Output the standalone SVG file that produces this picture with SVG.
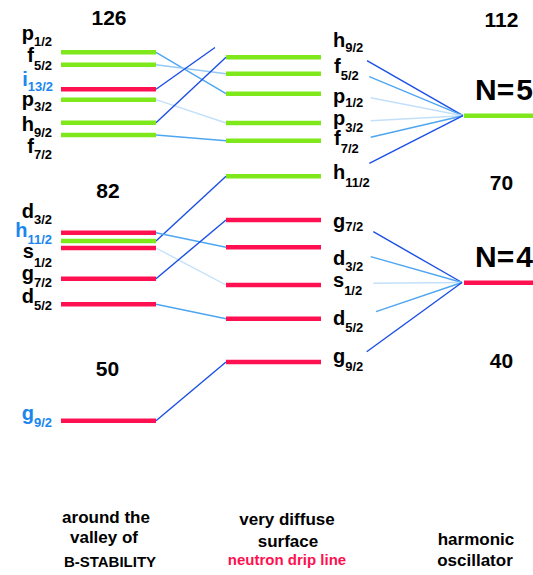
<svg xmlns="http://www.w3.org/2000/svg" width="533" height="575" viewBox="0 0 533 575">
<style>
text{font-family:"Liberation Sans",Arial,sans-serif;font-weight:bold;fill:#000}
.lab{font-size:20px}
.sub{font-size:13px}
.blu{fill:#1a86ee}
.num{font-size:21px;text-anchor:middle}
.big{font-size:30px}
.cap{font-size:17px;text-anchor:middle}
.cap2{font-size:15px;text-anchor:middle}
.red{fill:#ff1050}
.g{stroke:#7ee81a;stroke-width:4.5}
.r{stroke:#ff1050;stroke-width:4.5}
.c{fill:none;stroke-width:1.4}
.dk{stroke:#1a4fe6}
.md{stroke:#4ea6f0}
.lt{stroke:#94c9f4}
.vl{stroke:#c3e0fa}
</style>
<g id="connectors">
<line class="c md" x1="156" y1="52.3" x2="226" y2="93.7"/>
<line class="c lt" x1="156" y1="64.7" x2="226" y2="73.7"/>
<line class="c dk" x1="156" y1="89.3" x2="215" y2="47.5"/>
<line class="c vl" x1="156" y1="99.7" x2="226" y2="123"/>
<line class="c dk" x1="156" y1="122.7" x2="226" y2="57.3"/>
<line class="c md" x1="156" y1="135" x2="226" y2="140.7"/>
<line class="c dk" x1="156" y1="241" x2="226" y2="176.3"/>
<line class="c md" x1="156" y1="232.7" x2="226" y2="247.3"/>
<line class="c vl" x1="156" y1="248" x2="226" y2="285"/>
<line class="c dk" x1="156" y1="278.7" x2="226" y2="220"/>
<line class="c md" x1="156" y1="304.3" x2="226" y2="318.7"/>
<line class="c dk" x1="156" y1="420.7" x2="226" y2="362"/>
<line class="c dk" x1="367" y1="60.7" x2="463" y2="115.7"/>
<line class="c md" x1="369.3" y1="76.7" x2="463" y2="115.7"/>
<line class="c vl" x1="370.7" y1="97.7" x2="463" y2="115.7"/>
<line class="c vl" x1="370.7" y1="120.7" x2="463" y2="115.7"/>
<line class="c md" x1="370.7" y1="137.3" x2="463" y2="115.7"/>
<line class="c dk" x1="369.3" y1="163.3" x2="463" y2="115.7"/>
<line class="c dk" x1="373.3" y1="231.7" x2="462" y2="282.5"/>
<line class="c md" x1="370.7" y1="256.7" x2="462" y2="282.5"/>
<line class="c vl" x1="373.3" y1="283.3" x2="462" y2="282.5"/>
<line class="c md" x1="376" y1="311.7" x2="462" y2="282.5"/>
<line class="c dk" x1="366.7" y1="351.7" x2="462" y2="282.5"/>
</g>
<g id="left-levels">
<line class="g" x1="61" y1="52.3" x2="156" y2="52.3"/>
<line class="g" x1="61" y1="64.7" x2="156" y2="64.7"/>
<line class="r" x1="61" y1="89.3" x2="156" y2="89.3"/>
<line class="g" x1="61" y1="99.7" x2="156" y2="99.7"/>
<line class="g" x1="61" y1="122.7" x2="156" y2="122.7"/>
<line class="g" x1="61" y1="135" x2="156" y2="135"/>
<line class="r" x1="61" y1="232.7" x2="156" y2="232.7"/>
<line class="g" x1="61" y1="241" x2="156" y2="241"/>
<line class="r" x1="61" y1="248" x2="156" y2="248"/>
<line class="r" x1="61" y1="278.7" x2="156" y2="278.7"/>
<line class="r" x1="61" y1="304.3" x2="156" y2="304.3"/>
<line class="r" x1="61" y1="420.7" x2="156" y2="420.7"/>
</g>
<g id="left-labels">
<text class="lab" x="52" y="40" text-anchor="end">p<tspan class="sub" dy="6">1/2</tspan></text>
<text class="lab" x="52" y="62.3" text-anchor="end">f<tspan class="sub" dy="7.5">5/2</tspan></text>
<text class="lab blu" x="53" y="85.7" text-anchor="end">i<tspan class="sub blu" dy="5">13/2</tspan></text>
<text class="lab" x="52" y="106" text-anchor="end">p<tspan class="sub" dy="5">3/2</tspan></text>
<text class="lab" x="52" y="130.7" text-anchor="end">h<tspan class="sub" dy="6">9/2</tspan></text>
<text class="lab" x="52" y="153.3" text-anchor="end">f<tspan class="sub" dy="6">7/2</tspan></text>
<text class="lab" x="52" y="218.3" text-anchor="end">d<tspan class="sub" dy="6">3/2</tspan></text>
<text class="lab blu" x="52" y="236.7" text-anchor="end">h<tspan class="sub blu" dy="7">11/2</tspan></text>
<text class="lab" x="52" y="257.5" text-anchor="end">s<tspan class="sub" dy="9">1/2</tspan></text>
<text class="lab" x="52" y="280" text-anchor="end">g<tspan class="sub" dy="7">7/2</tspan></text>
<text class="lab" x="52" y="303.3" text-anchor="end">d<tspan class="sub" dy="6.5">5/2</tspan></text>
<text class="lab blu" x="52" y="420" text-anchor="end">g<tspan class="sub blu" dy="7">9/2</tspan></text>
</g>
<g id="left-numbers">
<text class="num" x="109" y="25">126</text>
<text class="num" x="108" y="198">82</text>
<text class="num" x="107.5" y="376">50</text>
</g>
<g id="mid-levels">
<line class="g" x1="226" y1="57.3" x2="321" y2="57.3"/>
<line class="g" x1="226" y1="73.7" x2="321" y2="73.7"/>
<line class="g" x1="226" y1="93.7" x2="321" y2="93.7"/>
<line class="g" x1="226" y1="123" x2="321" y2="123"/>
<line class="g" x1="226" y1="140.7" x2="321" y2="140.7"/>
<line class="g" x1="226" y1="176.3" x2="321" y2="176.3"/>
<line class="r" x1="226" y1="220" x2="321" y2="220"/>
<line class="r" x1="226" y1="247.3" x2="321" y2="247.3"/>
<line class="r" x1="226" y1="285" x2="321" y2="285"/>
<line class="r" x1="226" y1="318.7" x2="321" y2="318.7"/>
<line class="r" x1="226" y1="362" x2="321" y2="362"/>
</g>
<g id="mid-labels">
<text class="lab" x="333" y="46.7">h<tspan class="sub" dy="5">9/2</tspan></text>
<text class="lab" x="334" y="73.3">f<tspan class="sub" dy="6.7">5/2</tspan></text>
<text class="lab" x="333" y="103.3">p<tspan class="sub" dy="4">1/2</tspan></text>
<text class="lab" x="333" y="125">p<tspan class="sub" dy="6.7">3/2</tspan></text>
<text class="lab" x="334" y="145">f<tspan class="sub" dy="7.7">7/2</tspan></text>
<text class="lab" x="333" y="179.3">h<tspan class="sub" dy="7.4">11/2</tspan></text>
<text class="lab" x="333" y="228.3">g<tspan class="sub" dy="3">7/2</tspan></text>
<text class="lab" x="333" y="265">d<tspan class="sub" dy="5.7">3/2</tspan></text>
<text class="lab" x="333" y="287.3">s<tspan class="sub" dy="7.7">1/2</tspan></text>
<text class="lab" x="333" y="325">d<tspan class="sub" dy="6.7">5/2</tspan></text>
<text class="lab" x="333" y="363.3">g<tspan class="sub" dy="7.7">9/2</tspan></text>
</g>
<g id="right-levels">
<line class="g" x1="464" y1="115.7" x2="533" y2="115.7"/>
<line class="r" x1="464" y1="282.7" x2="533" y2="282.7"/>
</g>
<g id="right-labels">
<text class="num" x="501.5" y="26.7">112</text>
<text class="num" x="501.5" y="190">70</text>
<text class="num" x="501.5" y="368">40</text>
<text class="big" x="475" y="100">N=<tspan dx="2">5</tspan></text>
<text class="big" x="475" y="267.3">N=<tspan dx="2">4</tspan></text>
</g>
<g id="captions">
<text class="cap" x="106" y="523">around the</text>
<text class="cap" x="104" y="543.3">valley of</text>
<text class="cap2" x="110" y="566.7">B-STABILITY</text>
<text class="cap" x="287" y="525">very diffuse</text>
<text class="cap" x="288" y="546.7">surface</text>
<text class="cap2 red" x="287" y="565">neutron drip line</text>
<text class="cap" x="476" y="545">harmonic</text>
<text class="cap" x="475" y="566">oscillator</text>
</g>
</svg>
